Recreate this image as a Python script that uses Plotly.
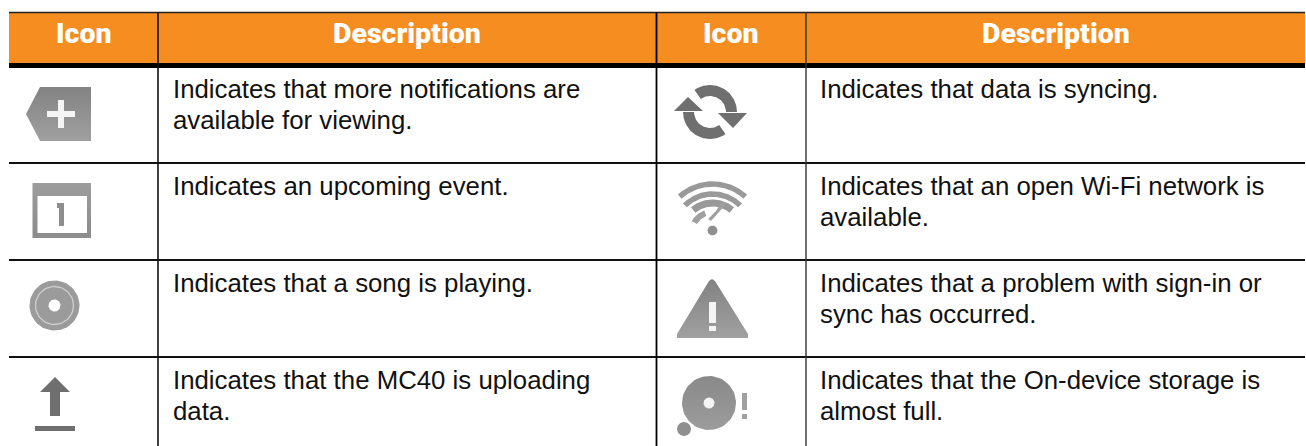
import numpy as np
import plotly.graph_objects as go

# ---- table content ----
headers = ["Icon", "Description", "Icon", "Description"]
left_descriptions = [
    ["Indicates that more notifications are", "available for viewing."],
    ["Indicates an upcoming event."],
    ["Indicates that a song is playing."],
    ["Indicates that the MC40 is uploading", "data."],
]
right_descriptions = [
    ["Indicates that data is syncing."],
    ["Indicates that an open Wi-Fi network is", "available."],
    ["Indicates that a problem with sign-in or", "sync has occurred."],
    ["Indicates that the On-device storage is", "almost full."],
]

# ---- layout of the table, in page pixels ----
W, H = 1306, 446
X_EDGES = [9, 158, 656.5, 806, 1305]
HEAD_TOP, HEAD_BOTTOM, HEAD_RULE = 12.5, 63, 65.5
ROW_RULES = [163, 260, 357]
ROW_TOPS = [66, 163, 260, 357]
ORANGE = "#F68D20"

fig = go.Figure()


def poly(xs, ys, color, grad=None):
    kw = dict(x=list(xs) + [xs[0]], y=list(ys) + [ys[0]], mode="lines", fill="toself",
              line=dict(width=0, color=color), hoverinfo="skip", showlegend=False)
    if grad:
        kw["fillgradient"] = dict(type="vertical", colorscale=[[0, grad[0]], [1, grad[1]]])
    else:
        kw["fillcolor"] = color
    fig.add_trace(go.Scatter(**kw))


def rect(x0, y0, x1, y1, color, grad=None):
    poly([x0, x1, x1, x0], [y0, y0, y1, y1], color, grad)


def circle(cx, cy, r, color, grad=None):
    t = np.linspace(0, 2 * np.pi, 73)[:-1]
    poly(list(cx + r * np.cos(t)), list(cy + r * np.sin(t)), color, grad)


def arc(cx, cy, r, w, a0, a1, color, grad=None):
    """Band between radii r-w/2 and r+w/2, angles in degrees measured upward from +x."""
    t = np.radians(np.linspace(a0, a1, 60))
    xo = cx + (r + w / 2) * np.cos(t)
    yo = cy - (r + w / 2) * np.sin(t)
    xi = cx + (r - w / 2) * np.cos(t[::-1])
    yi = cy - (r - w / 2) * np.sin(t[::-1])
    poly(list(xo) + list(xi), list(yo) + list(yi), color, grad)


G_LIGHT = ("#a0a0a0", "#828282")
DARK = "#6f6f6f"
MID = "#999999"

# tag with plus
poly([26, 40, 91, 91, 40], [114, 87, 87, 141, 141], "#909090", G_LIGHT)
rect(47, 111, 75, 117, "#f4f4f4")
rect(58, 100, 64, 128, "#f4f4f4")

# calendar
rect(32.5, 183, 91, 238, "#909090", ("#8c8c8c", "#9c9c9c"))
rect(37.5, 196, 87, 233, "#ffffff")
poly([57, 64, 64, 59, 59, 57], [203, 203, 226, 226, 208, 208], "#8e8e8e")

# disc
circle(54.5, 305.5, 25, "#9b9b9b")
arc(54.5, 305.5, 19, 1.3, 0, 360, "#cfcfcf")
circle(54.5, 305.5, 6, "#ffffff")

# upload arrow
poly([55, 70, 60, 60, 50, 50, 40], [377, 392, 392, 416, 416, 392, 392], DARK)
rect(35, 426, 75, 431, DARK)

# sync
arc(710, 112, 21.5, 11, 0, 125, DARK)
arc(710, 112, 21.5, 11, 180, 305, DARK)
poly([674, 688, 703], [111, 97, 111], DARK)
poly([718, 747, 733], [113, 113, 128], DARK)

# wifi
arc(712.5, 233, 49, 5.5, 48, 132, MID)
arc(712.5, 233, 39, 5.5, 45, 135, MID)
arc(712.5, 233, 30, 7, 50, 130, MID)
poly([711, 727, 721, 716, 713, 708], [221, 203, 203, 211, 214, 219], "#a0a0a0")
arc(712.5, 233, 21, 6, 110, 150, "#a0a0a0")
circle(712.5, 230.5, 5, "#8f8f8f")

# warning triangle
poly([709, 712, 715, 748, 748, 677, 677], [281, 279, 281, 334, 338, 338, 334], "#909090", G_LIGHT)
rect(709, 302, 716, 323, "#f4f4f4")
rect(709, 326, 716, 331, "#f4f4f4")

# disc almost full
circle(709, 403, 27, "#919191", ("#9c9c9c", "#898989"))
circle(709, 403, 5.5, "#f4f4f4")
circle(684, 429, 7, "#8f8f8f")
rect(742, 393, 747, 410, "#a0a0a0")
rect(742, 414, 747, 419, "#a0a0a0")

# ---- rules of the table ----
shapes = [dict(type="rect", x0=X_EDGES[0], x1=X_EDGES[-1], y0=HEAD_TOP, y1=HEAD_BOTTOM,
               fillcolor=ORANGE, line_width=0, layer="below")]
shapes.append(dict(type="line", x0=X_EDGES[0], x1=X_EDGES[-1], y0=HEAD_TOP, y1=HEAD_TOP,
                   line=dict(color="#222222", width=1.5)))
shapes.append(dict(type="line", x0=X_EDGES[0], x1=X_EDGES[-1], y0=HEAD_RULE, y1=HEAD_RULE,
                   line=dict(color="#000000", width=5)))
for y in ROW_RULES:
    shapes.append(dict(type="line", x0=X_EDGES[0], x1=X_EDGES[-1], y0=y, y1=y,
                       line=dict(color="#111111", width=1.8)))
for x, width, color in zip(X_EDGES[1:-1], [1.6, 1.8, 1.4], ["#111111", "#000000", "#333333"]):
    shapes.append(dict(type="line", x0=x, x1=x, y0=HEAD_TOP, y1=H,
                       line=dict(color=color, width=width)))

# ---- text ----
annotations = []
for i, head in enumerate(headers):
    annotations.append(dict(x=(X_EDGES[i] + X_EDGES[i + 1]) / 2, y=33.5, text=head, showarrow=False,
                            xanchor="center", yanchor="middle",
                            font=dict(family="Roboto", size=28.5, color="white", weight=900)))

BASELINE_TO_CENTER = 9
for col_x, rows in [(171, left_descriptions), (818, right_descriptions)]:
    for top, lines in zip(ROW_TOPS, rows):
        for j, line in enumerate(lines):
            annotations.append(dict(x=col_x, y=top + 32 + j * 31 - BASELINE_TO_CENTER, text=line,
                                    showarrow=False, xanchor="left", yanchor="middle",
                                    font=dict(family="Liberation Sans", size=25.8, color="#111111")))

fig.update_layout(
    width=W, height=H, margin=dict(l=0, r=0, t=0, b=0),
    paper_bgcolor="white", plot_bgcolor="white", showlegend=False,
    xaxis=dict(range=[0, W], visible=False, fixedrange=True),
    yaxis=dict(range=[H, 0], visible=False, fixedrange=True),
    shapes=shapes, annotations=annotations,
)
fig.write_html("out.html", config=dict(displayModeBar=False),
               post_script="document.body.style.margin='0';document.body.style.overflow='hidden';")
